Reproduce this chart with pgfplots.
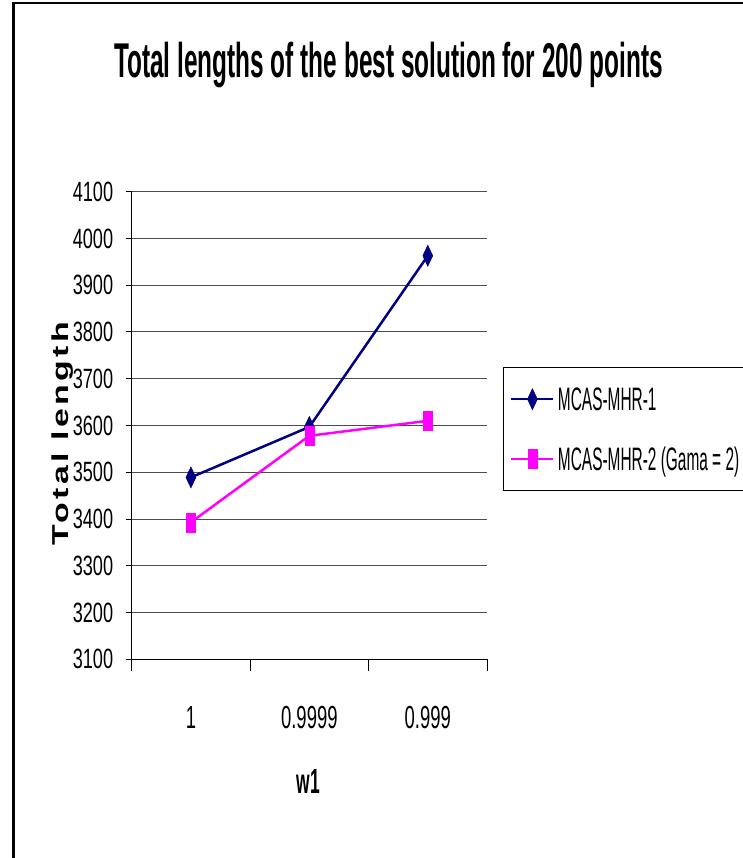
\documentclass[border=0pt]{standalone}
\usepackage{pgfplots}
\pgfplotsset{compat=1.18}
\usepackage{graphicx}
\usepackage{fontspec}
\setmainfont{Liberation Sans}
\newfontfamily\titlef{Liberation Sans}[FakeStretch=0.50]
\newfontfamily\ytickf{Liberation Sans}[FakeStretch=0.65]
\newfontfamily\xtickf{Liberation Sans}[FakeStretch=0.58]
\newfontfamily\legf{Liberation Sans}[FakeStretch=0.475]
\newfontfamily\xlabf{Liberation Sans}[FakeStretch=0.5]
\newfontfamily\ylabf{Liberation Sans}[LetterSpace=10]
\definecolor{navyc}{RGB}{0,0,128}
\definecolor{magc}{RGB}{255,0,255}

\begin{document}
\begin{tikzpicture}
% page = 743 x 858, axis box lower-left at (0,0)
\path[use as bounding box] (-131.7bp,-198.7bp) rectangle (611.3bp,659.3bp);
\draw[line width=2.5bp] (-118bp,-260bp) -- (-118bp,656.5bp) -- (800bp,656.5bp);
% y label first, so the tick labels sit on top of it
\node[rotate=90, anchor=base, inner sep=0pt] at (-63.4bp,225.8bp)
  {\scalebox{1}[0.68]{\ylabf\bfseries\fontsize{34}{40}\selectfont Total length}};
\begin{axis}[
    at={(0,0)}, anchor=south west,
    scale only axis, width=355.3bp, height=467.6bp,
    xmin=0.5, xmax=3.5, ymin=3100, ymax=4100,
    xtick={1,2,3}, xticklabels={1,0.9999,0.999},
    minor xtick={0.5,1.5,2.5,3.5},
    ytick={3100,3200,...,4100},
    scaled y ticks=false,
    axis lines*=left,
    axis line style={black, line width=1bp},
    tick align=outside,
    major tick length=6bp, minor tick length=12bp,
    tick style={black, line width=1bp},
    major x tick style={draw=none},
    ymajorgrids,
    major grid style={black!70, line width=1bp},
    yticklabel style={font=\ytickf\fontsize{28}{30}\selectfont, anchor=east,
        inner sep=0pt, xshift=-12.4bp, fill=white,
        /pgf/number format/assume math mode=true,
        /pgf/number format/1000 sep={}},
    xticklabel style={font=\xtickf\fontsize{32}{36}\selectfont, anchor=base,
        inner sep=0pt, yshift=-63bp},
    title={Total lengths of the best solution for 200 points},
    title style={at={(0.7228,1)}, anchor=base, yshift=108.4bp, inner sep=0pt,
        font=\titlef\bfseries\fontsize{49}{56}\selectfont},
    xlabel={w1},
    xlabel style={at={(0.497,0)}, anchor=base, yshift=-134bp, inner sep=0pt,
        font=\xlabf\bfseries\fontsize{35}{40}\selectfont},
    legend style={at={(1.045,0.625)}, anchor=north west, draw=black,
        line width=1bp, font=\legf\fontsize{32.6}{36}\selectfont,
        nodes={inner sep=0pt, text height=23.3bp, text depth=0bp},
        inner xsep=6.7bp, inner ysep=20bp, row sep=36.7bp, column sep=3.3bp},
    legend cell align=left,
    legend image code/.code={\draw[mark repeat=2,mark phase=2,#1]
        plot coordinates {(0bp,0bp) (21bp,0bp) (42bp,0bp)};},
]
\addplot[color=navyc, line width=2.5bp, mark=diamond*, mark size=10.5bp,
    mark options={solid, xscale=0.63, line width=0.5bp}]
    coordinates {(1,3489) (2,3597) (3,3963)};
\addlegendentry{MCAS-MHR-1}
\addplot[color=magc, line width=2.5bp, mark=square*, mark size=9.5bp,
    mark options={solid, xscale=0.47, line width=0.5bp}]
    coordinates {(1,3393) (2,3578) (3,3610)};
\addlegendentry{MCAS-MHR-2 (Gama = 2)}
\end{axis}
\end{tikzpicture}
\end{document}
